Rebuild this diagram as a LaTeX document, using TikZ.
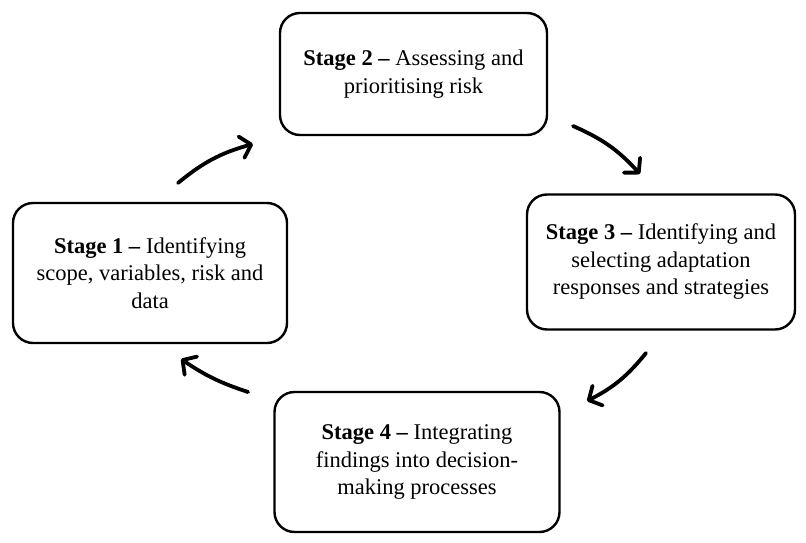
\documentclass[tikz,border=0pt]{standalone}
\usepackage{fontspec}
\setmainfont{Liberation Serif}
\usetikzlibrary{arrows.meta}
\begin{document}
\begin{tikzpicture}[x=1pt,y=-1pt,
  stagebox/.style={draw, line width=2.4pt, rounded corners=20pt, align=center,
    inner sep=0pt, font=\fontsize{22.5}{27.5}\selectfont},
  cyclearrow/.style={line width=3.8pt, line cap=round,
    -{Straight Barb[length=10pt,width=22pt,line cap=round,line join=round]}}]
\useasboundingbox (0,0) rectangle (806,543);
\node[stagebox, minimum width=267pt, minimum height=122pt] (s2) at (413.5,74)
  {\textbf{Stage 2 –} Assessing and\\prioritising risk};
\node[stagebox, minimum width=274pt, minimum height=140pt] (s1) at (150,273)
  {\textbf{Stage 1 –} Identifying\\scope, variables, risk and\\data};
\node[stagebox, minimum width=268pt, minimum height=135pt] (s3) at (661,262)
  {\textbf{Stage 3 –} Identifying and\\selecting adaptation\\responses and strategies};
\node[stagebox, minimum width=285pt, minimum height=140pt] (s4) at (417,462)
  {\textbf{Stage 4 –} Integrating\\findings into decision-\\making processes};
% arrow ends
\coordinate (a1s) at (178,183); \coordinate (a1e) at (253,144);
\coordinate (a2s) at (573,126); \coordinate (a2e) at (640,174);
\coordinate (a3s) at (646,353); \coordinate (a3e) at (587,401);
\coordinate (a4s) at (248,392); \coordinate (a4e) at (181,359);
\draw[cyclearrow] (a1s) to[bend left=12] (a1e);
\draw[cyclearrow] (a2s) to[bend left=12] (a2e);
\draw[cyclearrow] (a3s) to[bend left=12] (a3e);
\draw[cyclearrow] (a4s) to[bend left=8] (a4e);
\end{tikzpicture}
\end{document}
